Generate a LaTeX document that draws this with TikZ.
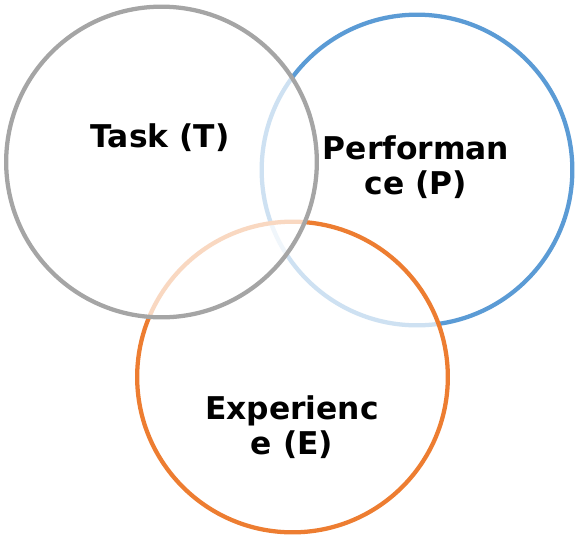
\documentclass[tikz,border=0pt]{standalone}
\usepackage{fontspec}
\setmainfont{DejaVu Sans}
\usetikzlibrary{positioning}
\definecolor{TaskGray}{RGB}{165,165,165}
\definecolor{PerfBlue}{RGB}{91,155,213}
\definecolor{ExpOrange}{RGB}{237,125,49}

\begin{document}
\begin{tikzpicture}[
  x=0.75pt, y=-0.75pt,
  ring/.style={circle, draw=#1, line width=3.2pt, fill=white, fill opacity=0.7,
    draw opacity=1, minimum size=233pt, inner sep=0pt},
  setlabel/.style={font=\bfseries\fontsize{23.5pt}{26.5pt}\selectfont, align=center,
    text=black, inner sep=0pt}
]
\useasboundingbox (0,0) rectangle (578,544);

% --- Rings (drawn bottom to top so the overlaps fade) ---
\node[ring=PerfBlue] (perfring) at (417,170) {};
\node[ring=ExpOrange] (expring) at (292.5,377) {};
\node[ring=TaskGray] (taskring) at (161.5,162) {};

% --- Labels ---
\node[setlabel] (tasklabel) at (160,138) {Task (T)};
\node[setlabel] (perflabel) at (416,167) {Performan\\ce (P)};
\node[setlabel] (explabel) at (292,427) {Experienc\\e (E)};

\end{tikzpicture}
\end{document}
